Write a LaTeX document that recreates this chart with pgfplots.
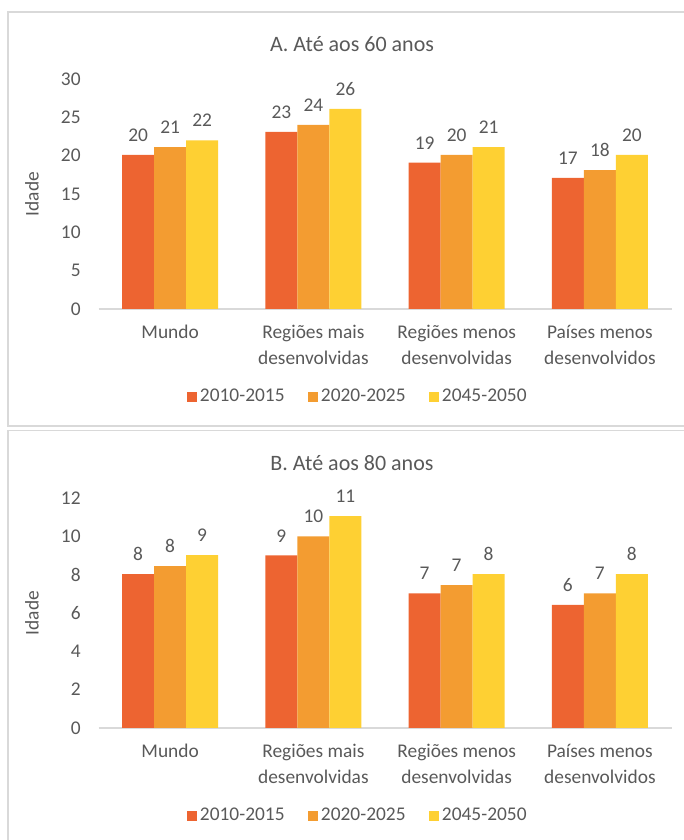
\documentclass[border=0pt]{standalone}
\usepackage{fontspec}
\setmainfont{Carlito}
\usepackage{pgfplots}
\pgfplotsset{compat=1.18}
\definecolor{cA}{HTML}{ED6431}
\definecolor{cB}{HTML}{F39C31}
\definecolor{cC}{HTML}{FED033}
\definecolor{txt}{HTML}{595959}
\definecolor{frm}{HTML}{D9D9D9}
\newcommand{\lblfont}{\fontsize{9.7}{13}\selectfont}
\pgfplotsset{mystyle/.style={
  scale only axis, width=286.5pt, height=115pt,
  ybar=0pt, bar width=16pt,
  xmin=-0.5, xmax=3.5, ymin=0,
  xtick={0,1,2,3},
  xticklabels={Mundo,{Regiões mais\\desenvolvidas},{Regiões menos\\desenvolvidas},{Países menos\\desenvolvidos}},
  xticklabel style={align=center, font=\lblfont, text=txt, inner sep=0pt, anchor=north, yshift=-8pt},
  yticklabel style={font=\lblfont, text=txt, inner sep=0pt, anchor=east, xshift=-8.75pt},
  /pgf/number format/assume math mode=true,
  axis x line=bottom, axis y line=left,
  y axis line style={draw=none},
  x axis line style={frm, line width=0.75pt, -},
  major tick length=0pt,
  ylabel={Idade},
  every axis y label/.style={at={([xshift=-33.25pt]rel axis cs:0,0.5)}, rotate=90, anchor=center, font=\lblfont, text=txt},
  nodes near coords={\pgfmathprintnumber[fixed,precision=0]{\pgfplotspointmeta}},
  nodes near coords style={font=\lblfont, text=txt, inner sep=0pt, anchor=south, yshift=6.5pt},
  legend style={at={(0.453,-0.383)}, anchor=center, draw=none, fill=none, legend columns=3,
    font=\lblfont, text=txt, nodes={inner sep=1.5pt, text=txt},
    /tikz/every even column/.append style={column sep=10pt}},
  legend image code/.code={\fill[#1] (0pt,-2.6pt) rectangle (5.2pt,2.6pt);},
}}
\begin{document}
\begin{tikzpicture}
\path[use as bounding box] (0,0) rectangle (342pt,420pt);
\draw[frm, line width=0.8pt] (4pt,414pt) rectangle (350pt,207pt);
\draw[frm, line width=0.8pt] (4pt,204.75pt) rectangle (350pt,-10pt);
\node[font=\fontsize{11}{13}\selectfont, text=txt] at (176pt,398pt) {A. Até aos 60 anos};
\node[font=\fontsize{11}{13}\selectfont, text=txt] at (176pt,188.5pt) {B. Até aos 80 anos};
\begin{axis}[mystyle, at={(49.25pt,265.5pt)}, anchor=south west, ymax=30, ytick={0,5,...,30}]
\addplot[fill=cA, draw=none] coordinates {(0,20.1) (1,23.1) (2,19.1) (3,17.1)};
\addplot[fill=cB, draw=none] coordinates {(0,21.1) (1,24.0) (2,20.1) (3,18.1)};
\addplot[fill=cC, draw=none] coordinates {(0,22.0) (1,26.1) (2,21.1) (3,20.1)};
\legend{2010-2015,2020-2025,2045-2050}
\end{axis}
\begin{axis}[mystyle, at={(49.25pt,56pt)}, anchor=south west, ymax=12, ytick={0,2,...,12}]
\addplot[fill=cA, draw=none] coordinates {(0,8.03) (1,9.0) (2,7.03) (3,6.42)};
\addplot[fill=cB, draw=none] coordinates {(0,8.45) (1,10.0) (2,7.46) (3,7.03)};
\addplot[fill=cC, draw=none] coordinates {(0,9.02) (1,11.05) (2,8.03) (3,8.03)};
\legend{2010-2015,2020-2025,2045-2050}
\end{axis}
\end{tikzpicture}
\end{document}
